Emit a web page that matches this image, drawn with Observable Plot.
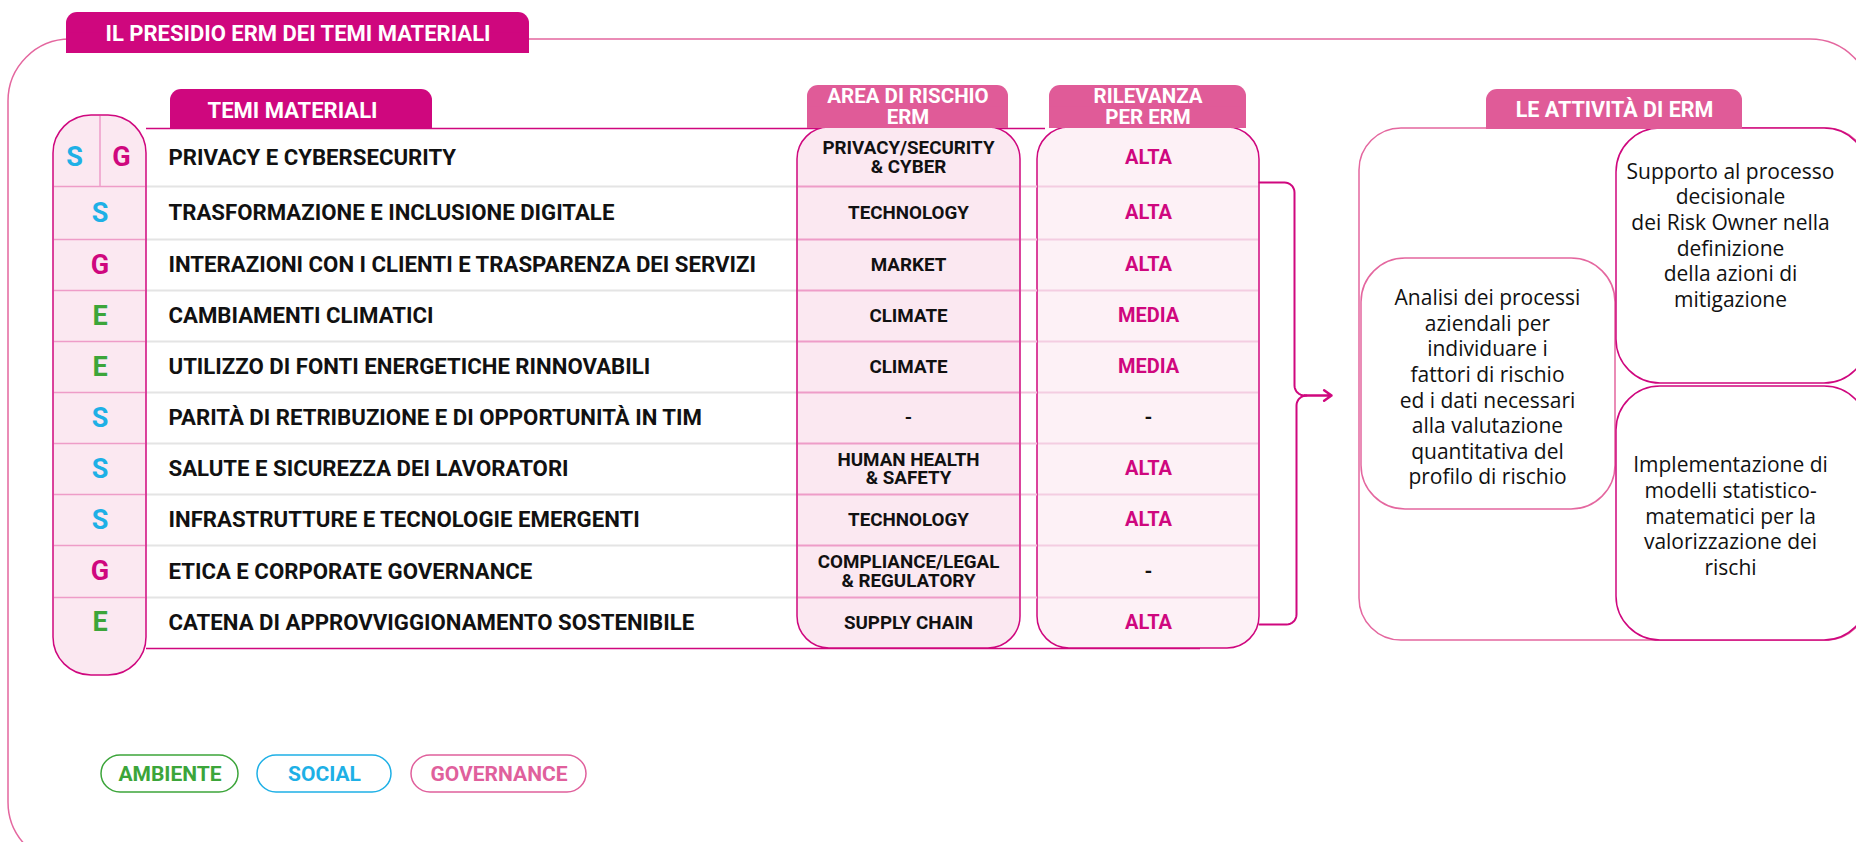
<!DOCTYPE html>
<html><head><meta charset="utf-8">
<script src="https://cdn.jsdelivr.net/npm/d3@7"></script>
<script src="https://cdn.jsdelivr.net/npm/@observablehq/plot@0.6"></script>
<style>html,body{margin:0;padding:0;background:#fff;overflow:hidden}</style>
</head><body><div id="chart"></div>
<script>
// ---------- DATA ----------
const title = "IL PRESIDIO ERM DEI TEMI MATERIALI";
const headerThemes = "TEMI MATERIALI";
const headerArea = "AREA DI RISCHIO\nERM";
const headerRelevance = "RILEVANZA\nPER ERM";
const headerActivities = "LE ATTIVITÀ DI ERM";
const themes = [
  "PRIVACY E CYBERSECURITY",
  "TRASFORMAZIONE E INCLUSIONE DIGITALE",
  "INTERAZIONI CON I CLIENTI E TRASPARENZA DEI SERVIZI",
  "CAMBIAMENTI CLIMATICI",
  "UTILIZZO DI FONTI ENERGETICHE RINNOVABILI",
  "PARITÀ DI RETRIBUZIONE E DI OPPORTUNITÀ IN TIM",
  "SALUTE E SICUREZZA DEI LAVORATORI",
  "INFRASTRUTTURE E TECNOLOGIE EMERGENTI",
  "ETICA E CORPORATE GOVERNANCE",
  "CATENA DI APPROVVIGGIONAMENTO SOSTENIBILE"
];
const esgCodes = [["S","G"],["S"],["G"],["E"],["E"],["S"],["S"],["S"],["G"],["E"]];
const riskAreas = [
  "PRIVACY/SECURITY\n& CYBER", "TECHNOLOGY", "MARKET", "CLIMATE", "CLIMATE", "-",
  "HUMAN HEALTH\n& SAFETY", "TECHNOLOGY", "COMPLIANCE/LEGAL\n& REGULATORY", "SUPPLY CHAIN"
];
const relevance = ["ALTA","ALTA","ALTA","MEDIA","MEDIA","-","ALTA","ALTA","-","ALTA"];
const pillars = ["AMBIENTE","SOCIAL","GOVERNANCE"];
const pillarCodes = ["E","S","G"];
const activities = [
  "Analisi dei processi\naziendali per\nindividuare i\nfattori di rischio\ned i dati necessari\nalla valutazione\nquantitativa del\nprofilo di rischio",
  "Supporto al processo\ndecisionale\ndei Risk Owner nella\ndefinizione\ndella azioni di\nmitigazione",
  "Implementazione di\nmodelli statistico-\nmatematici per la\nvalorizzazione dei\nrischi"
];

// ---------- LAYOUT & STYLE ----------
const W = 1856, H = 842;
const rowEdges = [128,186,239,290,341,392,443,494,545,597,647];
const C = {
  magenta:"#cf077e", tab:"#e05b98", border:"#e4679f", rowPink:"#ee9cc8",
  grey:"#e4e4e4", fillA:"#fbe8f1", fillB:"#fdf1f6",
  E:"#3ca53a", S:"#1eb0e6", G:"#cf077e", legendG:"#e0609c", text:"#111"
};
const codeColor = {E:C.E, S:C.S, G:C.G};
const legendColor = [C.E, C.S, C.legendG];
const BOLD = "Roboto, 'Liberation Sans', sans-serif";
const REG = "'Open Sans', 'Noto Sans', sans-serif";
const L = {
  outer:{x1:8,x2:1872,y1:39,y2:864},
  titleTab:{x1:66,x2:529,y1:12,y2:53},
  themesTab:{x1:170,x2:432,y1:89,y2:129},
  areaTab:{x1:807,x2:1008,y1:85,y2:128},
  relTab:{x1:1049,x2:1246,y1:85,y2:128},
  actTab:{x1:1486,x2:1742,y1:89,y2:129},
  esgCol:{x1:53,x2:146,y1:115,y2:675},
  areaBox:{x1:797,x2:1020,y1:127,y2:648},
  relBox:{x1:1037,x2:1259,y1:127,y2:648},
  actOuter:{x1:1359,x2:1868,y1:128,y2:640},
  actBoxes:[
    {x1:1361,x2:1615,y1:258,y2:509,cx:1487,cy:386,stroke:"#e4679f"},
    {x1:1616,x2:1868,y1:128,y2:383,cx:1730,cy:234,stroke:"#cf077e"},
    {x1:1616,x2:1868,y1:386,y2:640,cx:1730,cy:515,stroke:"#cf077e"}
  ],
  legend:[{x1:101,x2:238},{x1:257,x2:391},{x1:411,x2:586}],
  legendY:[755,792],
  themeX:168, esgX:99.5, esgSplit:[74,121], areaX:908, relX:1148
};

// ---------- DERIVED TABLES ----------
const rows = themes.map((t,i)=>({
  i, theme:t, area:riskAreas[i], rel:relevance[i],
  y1:rowEdges[i], y2:rowEdges[i+1], y:(rowEdges[i]+rowEdges[i+1])/2
}));
const letters = rows.flatMap(r => esgCodes[r.i].map((c,k,arr)=>({
  code:c, y:r.y, x: arr.length===1 ? L.esgX : L.esgSplit[k]
})));
const innerEdges = rowEdges.slice(1,-1);
const legendData = pillars.map((p,i)=>({label:p, code:pillarCodes[i], color:legendColor[i], ...L.legend[i], y1:L.legendY[0], y2:L.legendY[1]}));
const actData = activities.map((t,i)=>({text:t, ...L.actBoxes[i]}));

// brace (bracket) geometry from arcs
function arc(cx, cy, r, a0, a1, n=8){ return d3.range(n+1).map(k=>{const a=a0+(a1-a0)*k/n; return {x:cx+r*Math.cos(a), y:cy+r*Math.sin(a)};}); }
const bx = 1294, btop = 182, bbot = 624, bmid = 395, r = 10;
const braceTop = [{x:1259,y:btop}, ...arc(bx-r, btop+r, r, -Math.PI/2, 0), ...arc(bx+r, bmid-r, r, Math.PI, Math.PI/2)];
const braceBot = [{x:1259,y:bbot}, ...arc(bx-r+2, bbot-r, r, Math.PI/2, 0), ...arc(bx+r+2, bmid+r, r, Math.PI, 3*Math.PI/2)];

function tab(t, fill){
  return [
    Plot.rect([t], {x1:"x1",x2:"x2",y1:"y1",y2:"y2",rx:11,fill}),
    Plot.rect([t], {x1:"x1",x2:"x2",y1:d=>(d.y1+d.y2)/2,y2:"y2",fill})
  ];
}
const R = (data, opts) => Plot.rect(data, {x1:"x1",x2:"x2",y1:"y1",y2:"y2", ...opts});

const chart = Plot.plot({
  width:W, height:H, margin:0,
  x:{domain:[0,W], range:[0,W], axis:null},
  y:{domain:[0,H], range:[0,H], axis:null},
  style:{background:"white"},
  marks:[
    // outer frame
    R([L.outer], {rx:62, fill:"none", stroke:C.border, strokeWidth:1.5}),
    ...tab(L.titleTab, C.magenta),
    Plot.text([title], {x:(L.titleTab.x1+L.titleTab.x2)/2, y:(L.titleTab.y1+L.titleTab.y2)/2+1, text:d=>d, fill:"white", fontSize:22, fontWeight:"bold", fontFamily:BOLD}),

    // table horizontal lines
    Plot.ruleY(innerEdges, {x1:L.esgCol.x2, x2:L.areaBox.x1, stroke:C.grey, strokeWidth:2}),
    Plot.ruleY([rowEdges[0]], {x1:L.esgCol.x2, x2:1045, stroke:C.magenta, strokeWidth:1.5}),
    Plot.ruleY([rowEdges[rowEdges.length-1]+1], {x1:L.esgCol.x2, x2:1200, stroke:C.magenta, strokeWidth:1.5}),

    // themes header tab
    ...tab(L.themesTab, C.magenta),
    Plot.text([headerThemes], {x:292, y:(L.themesTab.y1+L.themesTab.y2)/2+1, text:d=>d, fill:"white", fontSize:22, fontWeight:"bold", fontFamily:BOLD}),

    // ESG column
    R([L.esgCol], {rx:38, fill:C.fillA, stroke:C.magenta, strokeWidth:1.5}),
    Plot.ruleY(innerEdges, {x1:L.esgCol.x1+1, x2:L.esgCol.x2-1, stroke:C.rowPink, strokeWidth:1.5}),
    Plot.ruleX([L.esgX], {y1:L.esgCol.y1+1, y2:rowEdges[1], stroke:C.rowPink, strokeWidth:1.5}),
    Plot.text(letters, {x:"x", y:"y", text:"code", fill:d=>codeColor[d.code], fontSize:27, fontWeight:"bold", fontFamily:BOLD}),

    // area & relevance boxes
    R([L.areaBox], {rx:32, fill:C.fillA, stroke:C.magenta, strokeWidth:1.5}),
    R([L.relBox], {rx:32, fill:C.fillB, stroke:C.magenta, strokeWidth:1.5}),
    Plot.ruleY(innerEdges, {x1:L.areaBox.x1+1, x2:L.areaBox.x2-1, stroke:C.rowPink, strokeWidth:2}),
    Plot.ruleY(innerEdges, {x1:L.areaBox.x2+1, x2:L.relBox.x1, stroke:"#f3c3dc", strokeWidth:2}),
    Plot.ruleY(innerEdges, {x1:L.relBox.x1+1, x2:L.relBox.x2-1, stroke:"#f4cde1", strokeWidth:2}),
    ...tab(L.areaTab, C.tab),
    ...tab(L.relTab, C.tab),
    Plot.text([headerArea], {x:(L.areaTab.x1+L.areaTab.x2)/2, y:(L.areaTab.y1+L.areaTab.y2)/2, text:d=>d, fill:"white", fontSize:20.5, fontWeight:"bold", fontFamily:BOLD, lineHeight:1}),
    Plot.text([headerRelevance], {x:(L.relTab.x1+L.relTab.x2)/2, y:(L.relTab.y1+L.relTab.y2)/2, text:d=>d, fill:"white", fontSize:20.5, fontWeight:"bold", fontFamily:BOLD, lineHeight:1}),

    // row texts
    Plot.text(rows, {x:L.themeX, y:"y", text:"theme", textAnchor:"start", fill:C.text, fontSize:22.2, fontWeight:"bold", fontFamily:BOLD}),
    Plot.text(rows, {x:L.areaX, y:"y", text:"area", fill:C.text, fontSize:18.8, fontWeight:"bold", fontFamily:BOLD, lineHeight:1}),
    Plot.text(rows, {x:L.relX, y:"y", text:"rel", fill:d=>d.rel==="-"?C.text:C.magenta, fontSize:20, fontWeight:"bold", fontFamily:BOLD}),

    // brace + arrow
    Plot.line(braceTop, {x:"x", y:"y", stroke:C.magenta, strokeWidth:2}),
    Plot.line(braceBot, {x:"x", y:"y", stroke:C.magenta, strokeWidth:2}),
    Plot.arrow([{x1:bx+r, x2:1331, y:bmid}], {x1:"x1", x2:"x2", y1:"y", y2:"y", stroke:C.magenta, strokeWidth:2.5, headLength:9, headAngle:70}),

    // activities panel
    R([L.actOuter], {rx:42, fill:"none", stroke:C.border, strokeWidth:1.5}),
    R(actData, {rx:44, fill:"white", stroke:"stroke", strokeWidth:1.5}),
    ...tab(L.actTab, C.tab),
    Plot.text([headerActivities], {x:(L.actTab.x1+L.actTab.x2)/2, y:(L.actTab.y1+L.actTab.y2)/2+1, text:d=>d, fill:"white", fontSize:21.5, fontWeight:"bold", fontFamily:BOLD}),
    Plot.text(actData, {x:"cx", y:"cy", text:"text", fill:C.text, fontSize:21, fontFamily:REG, lineHeight:1.22}),

    // legend
    R(legendData, {rx:19, fill:"white", stroke:"color", strokeWidth:1.5}),
    Plot.text(legendData, {x:d=>(d.x1+d.x2)/2, y:d=>(d.y1+d.y2)/2, text:"label", fill:"color", fontSize:21, fontWeight:"bold", fontFamily:BOLD})
  ]
});
document.getElementById("chart").appendChild(chart);
</script>
</body></html>
